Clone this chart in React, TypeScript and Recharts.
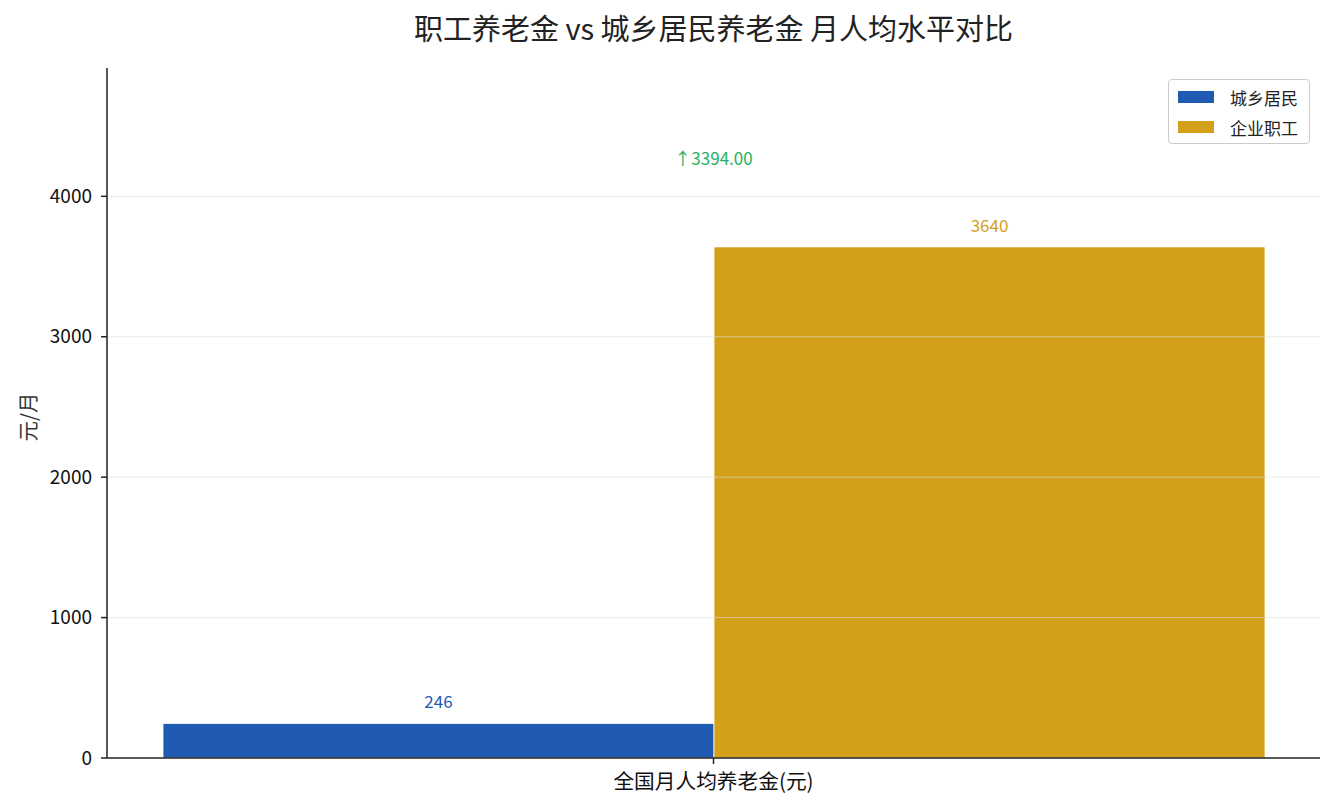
import React from "react";
import {
  Bar,
  BarChart,
  LabelList,
  ReferenceDot,
  ReferenceLine,
  XAxis,
  YAxis,
} from "recharts";

const categories = ["全国月人均养老金(元)"];
const ruralValues = [246];
const employeeValues = [3640];
const yTicks = [0, 1000, 2000, 3000, 4000];
const seriesNames = ["城乡居民", "企业职工"];
const gapText = "↑3394.00";

const BLUE = "#1F5BB0";
const GOLD = "#D4A019";
const FONT = '"Noto Sans CJK SC", "Noto Sans", sans-serif';

const data = categories.map((name, i) => ({
  name,
  rural: ruralValues[i],
  employee: employeeValues[i],
}));

const maxValue = Math.max(...employeeValues);

function LegendBox() {
  const items = [
    { label: seriesNames[0], color: BLUE },
    { label: seriesNames[1], color: GOLD },
  ];
  return (
    <div
      style={{
        position: "absolute",
        left: 1168,
        top: 79,
        width: 142,
        height: 65,
        boxSizing: "border-box",
        border: "1px solid #cccccc",
        borderRadius: 4,
        background: "rgba(255,255,255,0.85)",
        padding: "2px 0 0 9px",
        fontFamily: FONT,
        fontSize: 17,
        color: "#222",
      }}
    >
      {items.map((it) => (
        <div
          key={it.label}
          style={{ display: "flex", alignItems: "center", height: 30 }}
        >
          <span
            style={{
              display: "inline-block",
              width: 36,
              height: 12,
              background: it.color,
              marginRight: 16,
            }}
          />
          <span>{it.label}</span>
        </div>
      ))}
    </div>
  );
}

export default function App() {
  return (
    <div
      style={{
        position: "absolute",
        left: 0,
        top: 0,
        width: 1335,
        height: 810,
        background: "#fff",
      }}
    >
      <div
        style={{
          position: "absolute",
          left: 107,
          width: 1213,
          top: 6,
          textAlign: "center",
          fontFamily: FONT,
          fontSize: 29,
          color: "#222",
        }}
      >
        职工养老金 vs 城乡居民养老金 月人均水平对比
      </div>
      <div
        style={{
          position: "absolute",
          left: 27,
          top: 417,
          transform: "translate(-50%, -50%) rotate(-90deg)",
          fontFamily: FONT,
          fontSize: 20.5,
          color: "#333",
          whiteSpace: "nowrap",
        }}
      >
        元/月
      </div>
      <BarChart
        width={1335}
        height={810}
        data={data}
        margin={{ top: 68, right: 15, bottom: 0, left: 47 }}
        barCategoryGap={56}
        barGap={0}
      >
        <XAxis
          dataKey="name"
          height={52}
          tickLine={{ stroke: "#222", strokeWidth: 1.5 }}
          tickSize={6}
          axisLine={{ stroke: "#222", strokeWidth: 1.5 }}
          tick={{ fontSize: 20.7, fill: "#111", fontFamily: FONT, dy: 8 }}
        />
        <YAxis
          width={60}
          domain={[0, maxValue * 1.35]}
          ticks={yTicks}
          tickSize={6}
          tickMargin={9}
          tickLine={{ stroke: "#222", strokeWidth: 1.5 }}
          axisLine={{ stroke: "#222", strokeWidth: 1.5 }}
          tick={{ fontSize: 19, fill: "#111", fontFamily: FONT }}
          allowDataOverflow
        />
        <Bar
          dataKey="rural"
          name={seriesNames[0]}
          fill={BLUE}
          stroke="#fff"
          strokeWidth={0.8}
          isAnimationActive={false}
        >
          <LabelList
            dataKey="rural"
            position="top"
            offset={15}
            fill={BLUE}
            fontSize={17}
            fontFamily={FONT}
          />
        </Bar>
        <Bar
          dataKey="employee"
          name={seriesNames[1]}
          fill={GOLD}
          stroke="#fff"
          strokeWidth={0.8}
          isAnimationActive={false}
        >
          <LabelList
            dataKey="employee"
            position="top"
            offset={15}
            fill={GOLD}
            fontSize={17}
            fontFamily={FONT}
          />
        </Bar>
        {yTicks.slice(1).map((t) => (
          <ReferenceLine
            key={t}
            y={t}
            stroke="#dddddd"
            strokeOpacity={0.6}
            strokeWidth={1}
          />
        ))}
        <ReferenceDot
          x={categories[0]}
          y={maxValue * 1.172}
          r={0}
          fill="none"
          stroke="none"
          label={{
            value: gapText,
            position: "center",
            fill: "#27AE60",
            fontSize: 17,
            fontFamily: FONT,
          }}
        />
      </BarChart>
      <LegendBox />
    </div>
  );
}
